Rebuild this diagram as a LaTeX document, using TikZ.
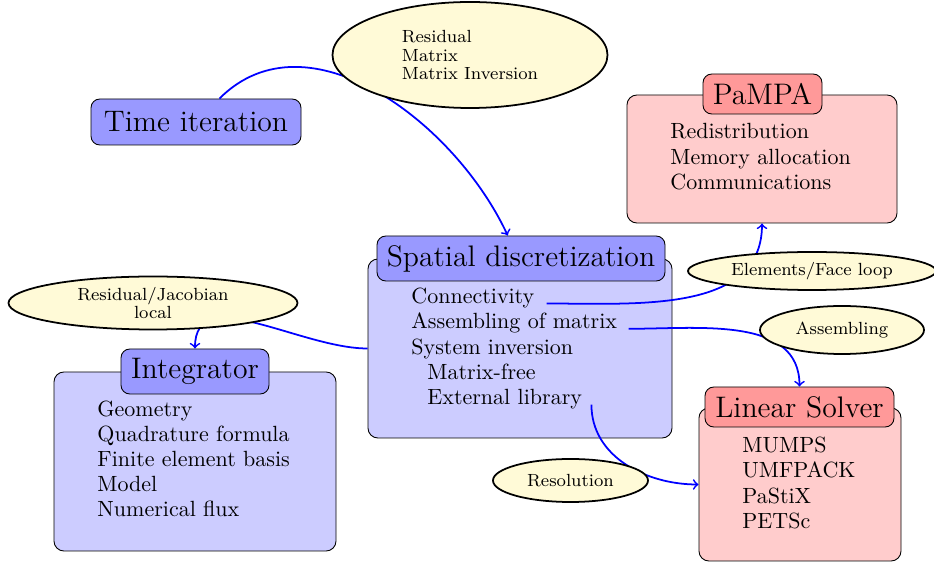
\documentclass[tikz,border=0pt]{standalone}
\usepackage{fontspec}
\usetikzlibrary{shapes.geometric}
\newcommand\pxu{0.4545pt}
\definecolor{ellfill}{RGB}{255,250,215}
\pgfdeclarelayer{front}
\pgfsetlayers{main,front}
\tikzset{
  titlebox/.style={draw, rectangle, rounded corners=4pt, inner sep=0pt, font=\fontsize{13.5}{16}\selectfont},
  bluetitle/.style={titlebox, fill=blue!40},
  redtitle/.style={titlebox, fill=red!40},
  bodybox/.style={draw, rectangle, rounded corners=4.5pt, inner sep=0pt},
  bluebody/.style={bodybox, fill=blue!20},
  redbody/.style={bodybox, fill=red!20},
  txtline/.style={inner sep=0pt, anchor=base west, font=\normalsize},
  bubble/.style={draw=black, thick, ellipse, fill=ellfill, inner sep=0pt, font=\fontsize{8}{8.5}\selectfont},
  conn/.style={draw=blue, thick, ->},
}
\begin{document}
\begin{tikzpicture}[x=0.4545pt, y=-0.4545pt]
\useasboundingbox (0,0) rectangle (934,565);

% Time iteration
\node[bluetitle, minimum width=210*\pxu, minimum height=46*\pxu] (time) at (196,122) {Time iteration};

% Spatial discretization
\node[bluebody, minimum width=304*\pxu, minimum height=179*\pxu] (sbody) at (520,348.5) {};
\node[bluetitle, minimum width=288*\pxu, minimum height=45*\pxu] (stitle) at (521,258.5) {Spatial discretization};
\node[txtline] (sd1) at (411,303.5) {Connectivity};
\node[txtline] (sd2) at (411,328.8) {Assembling of matrix};
\node[txtline] (sd3) at (411,354.1) {System inversion};
\node[txtline] (sd4) at (427,379.4) {Matrix-free};
\node[txtline] (sd5) at (427,404.7) {External library};

% Integrator
\node[bluebody, minimum width=282*\pxu, minimum height=179*\pxu] (ibody) at (195,461.5) {};
\node[bluetitle, minimum width=148*\pxu, minimum height=45*\pxu] (ititle) at (195,371.5) {Integrator};
\node[txtline] (in1) at (97,417) {Geometry};
\node[txtline] (in2) at (97,442) {Quadrature formula};
\node[txtline] (in3) at (97,467) {Finite element basis};
\node[txtline] (in4) at (97,492) {Model};
\node[txtline] (in5) at (97,517) {Numerical flux};

% PaMPA
\node[redbody, minimum width=270*\pxu, minimum height=128*\pxu] (pbody) at (762,159) {};
\node[redtitle, minimum width=119*\pxu, minimum height=40*\pxu] (ptitle) at (762.5,94) {PaMPA};
\node[txtline] (pa1) at (670,139) {Redistribution};
\node[txtline] (pa2) at (670,164.5) {Memory allocation};
\node[txtline] (pa3) at (670,190) {Communications};

% Linear Solver
\node[redbody, minimum width=202*\pxu, minimum height=153*\pxu] (lsbody) at (800,484.5) {};
\node[redtitle, minimum width=189*\pxu, minimum height=40*\pxu] (lstitle) at (799.5,407) {Linear Solver};
\node[txtline] (ls1) at (742,452.5) {MUMPS};
\node[txtline] (ls2) at (742,478) {UMFPACK};
\node[txtline] (ls3) at (742,503.5) {PaStiX};
\node[txtline] (ls4) at (742,529) {PETSc};

% Connectors
\draw[conn] (time.45) to[out=45,in=115] (stitle.120);
\draw[conn] (sbody.west) to[out=180,in=90] (ititle.north);
\draw[conn] ([xshift=12*\pxu]sd1.base east) to[out=0,in=-90] (pbody.south);
\draw[conn] ([xshift=11*\pxu]sd2.base east) to[out=0,in=90] (lstitle.north);
\draw[conn] ([xshift=9*\pxu]sd5.base east) to[out=-90,in=180] (lsbody.west);

% Bubbles
\begin{pgfonlayer}{front}
\node[bubble, minimum width=275*\pxu, minimum height=106*\pxu, align=left] (topE) at (470,55) {Residual\\Matrix\\Matrix Inversion};
\node[bubble, minimum width=248*\pxu, minimum height=38*\pxu] (elE) at (812,271) {Elements/Face loop};
\node[bubble, minimum width=164*\pxu, minimum height=48*\pxu] (asE) at (842,330) {Assembling};
\node[bubble, minimum width=155*\pxu, minimum height=43*\pxu] (resE) at (570.5,480.5) {Resolution};
\node[bubble, minimum width=289*\pxu, minimum height=53*\pxu, align=center] (rjE) at (153,303) {Residual/Jacobian\\local};
\end{pgfonlayer}
\end{tikzpicture}
\end{document}
